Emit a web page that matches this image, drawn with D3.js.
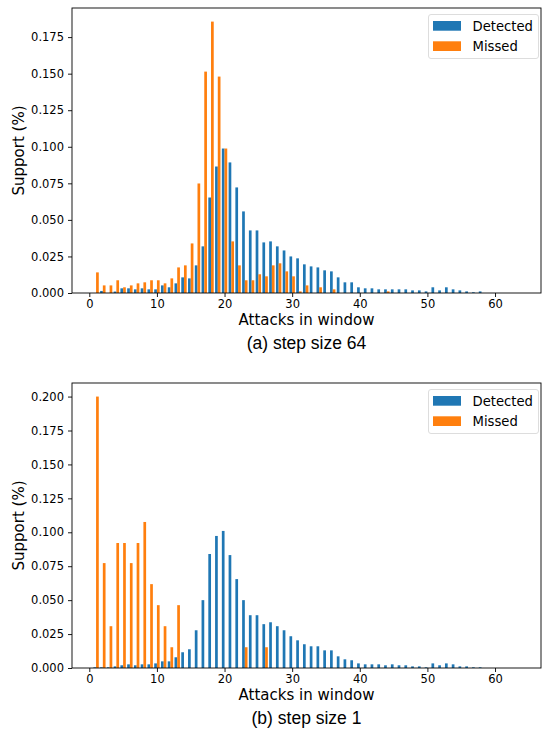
<!DOCTYPE html>
<html>
<head>
<meta charset="utf-8">
<script src="https://cdn.jsdelivr.net/npm/d3@7"></script>
<style>
  html, body { margin: 0; padding: 0; background: #fff; }
  svg { display: block; }
</style>
</head>
<body>
<svg id="chart" width="543" height="732"></svg>
<script>
// ---- Data ----
const attacks = d3.range(1, 59); // attacks in window: 1..58
const xTicks = [0, 10, 20, 30, 40, 50, 60];
const seriesNames = ["Detected", "Missed"];

// (a) step size 64
const detected64 = [0, 0.0014, 0, 0.0010, 0.0032, 0.0032, 0.0025, 0.0032, 0.0025, 0.0025,
  0.0052, 0.0039, 0.0066, 0.0107, 0.0100, 0.0189, 0.0319, 0.0653, 0.0865, 0.0988,
  0.0893, 0.0722, 0.0558, 0.0428, 0.0428, 0.0346, 0.0353, 0.0319, 0.0291, 0.0250,
  0.0237, 0.0196, 0.0182, 0.0175, 0.0155, 0.0148, 0.0107, 0.0073, 0.0073, 0.0039,
  0.0032, 0.0032, 0.0025, 0.0025, 0.0025, 0.0025, 0.0025, 0.0018, 0.0018, 0.0011,
  0.0039, 0.0018, 0.0039, 0.0025, 0.0018, 0.0011, 0.0005, 0.0011];
const missed64 = [0.0141, 0.0052, 0.0052, 0.0087, 0.0039, 0.0052, 0.0066, 0.0073, 0.0087, 0.0087,
  0.0066, 0.0100, 0.0175, 0.0189, 0.0339, 0.0749, 0.1514, 0.1856, 0.1480, 0.0988,
  0.0353, 0.0189, 0.0087, 0.0087, 0.0128, 0.0114, 0.0189, 0.0203, 0.0148, 0.0114,
  0.0011, 0.0052, 0, 0.0039, 0, 0.0025, 0, 0, 0, 0,
  0, 0, 0, 0.0011, 0, 0, 0, 0, 0, 0,
  0, 0, 0, 0, 0, 0, 0, 0];
const yTicks64 = [0, 0.025, 0.05, 0.075, 0.1, 0.125, 0.15, 0.175];

// (b) step size 1
const detected1 = [0.0005, 0.0005, 0.0005, 0.0012, 0.0020, 0.0027, 0.0020, 0.0027, 0.0027, 0.0034,
  0.0049, 0.0049, 0.0079, 0.0116, 0.0138, 0.0278, 0.0500, 0.0840, 0.0973, 0.1010,
  0.0832, 0.0655, 0.0500, 0.0389, 0.0389, 0.0323, 0.0337, 0.0308, 0.0278, 0.0234,
  0.0204, 0.0175, 0.0160, 0.0160, 0.0130, 0.0130, 0.0086, 0.0064, 0.0057, 0.0034,
  0.0027, 0.0027, 0.0027, 0.0020, 0.0027, 0.0020, 0.0020, 0.0012, 0.0012, 0.0005,
  0.0034, 0.0020, 0.0034, 0.0027, 0.0012, 0.0012, 0.0005, 0.0005];
const missed1 = [0.2000, 0.0773, 0.0308, 0.0921, 0.0921, 0.0773, 0.0921, 0.1076, 0.0618, 0.0463,
  0.0308, 0.0153, 0.0463, 0, 0, 0, 0, 0, 0, 0,
  0, 0, 0.0153, 0, 0, 0.0153, 0, 0, 0, 0,
  0, 0, 0, 0, 0, 0, 0, 0, 0, 0,
  0, 0, 0, 0, 0, 0, 0, 0, 0, 0,
  0, 0, 0, 0, 0, 0, 0, 0];
const yTicks1 = [0, 0.025, 0.05, 0.075, 0.1, 0.125, 0.15, 0.175, 0.2];

// ---- Styling / layout ----
const colors = ["#1f77b4", "#ff7f0e"];
const barW = 0.4;
const left = 72, right = 541;
const tickFont = "DejaVu Sans";

const svg = d3.select("#chart");

const panels = [
  { det: detected64, mis: missed64, yTicks: yTicks64, yMax: 0.1949, top: 8, bottom: 293,
    caption: "(a) step size 64" },
  { det: detected1, mis: missed1, yTicks: yTicks1, yMax: 0.21, top: 383, bottom: 668,
    caption: "(b) step size 1" }
];

panels.forEach(p => {
  const x = d3.scaleLinear().domain([-2.56, 66.8]).range([left, right]);
  const y = d3.scaleLinear().domain([0, p.yMax]).range([p.bottom, p.top]);
  const g = svg.append("g");

  const rows = attacks.map((k, i) => ({ k, d: p.det[i], m: p.mis[i] }));

  // Detected bars (left of integer)
  g.append("g").selectAll("rect").data(rows.filter(r => r.d > 0)).join("rect")
    .attr("x", r => x(r.k - barW))
    .attr("width", r => x(r.k) - x(r.k - barW))
    .attr("y", r => y(r.d))
    .attr("height", r => y(0) - y(r.d))
    .attr("fill", colors[0]);
  // Missed bars (right of integer)
  g.append("g").selectAll("rect").data(rows.filter(r => r.m > 0)).join("rect")
    .attr("x", r => x(r.k))
    .attr("width", r => x(r.k + barW) - x(r.k))
    .attr("y", r => y(r.m))
    .attr("height", r => y(0) - y(r.m))
    .attr("fill", colors[1]);

  // Axes
  const xAxis = g.append("g").attr("transform", `translate(0,${p.bottom})`)
    .call(d3.axisBottom(x).tickValues(xTicks).tickFormat(d3.format("d")).tickSize(4).tickPadding(3));
  const yAxis = g.append("g").attr("transform", `translate(${left},0)`)
    .call(d3.axisLeft(y).tickValues(p.yTicks).tickFormat(d3.format(".3f")).tickSize(4).tickPadding(4));
  [xAxis, yAxis].forEach(a => {
    a.select(".domain").remove();
    a.selectAll("line").attr("stroke", "#000").attr("stroke-width", 0.9);
    a.selectAll("text").attr("font-family", tickFont).attr("font-size", 11.5).attr("fill", "#000");
  });

  // Frame
  g.append("rect")
    .attr("x", left).attr("y", p.top)
    .attr("width", right - left).attr("height", p.bottom - p.top)
    .attr("fill", "none").attr("stroke", "#000").attr("stroke-width", 0.9);

  // Axis labels
  g.append("text")
    .attr("x", (left + right) / 2).attr("y", p.bottom + 32)
    .attr("text-anchor", "middle")
    .attr("font-family", tickFont).attr("font-size", 15)
    .text("Attacks in window");
  g.append("text")
    .attr("transform", `translate(24,${(p.top + p.bottom) / 2}) rotate(-90)`)
    .attr("text-anchor", "middle")
    .attr("font-family", tickFont).attr("font-size", 15)
    .text("Support (%)");

  // Caption
  g.append("text")
    .attr("x", (left + right) / 2).attr("y", p.bottom + 56)
    .attr("text-anchor", "middle")
    .attr("font-family", "Liberation Sans").attr("font-size", 17.5)
    .text(p.caption);

  // Legend
  const lg = g.append("g").attr("transform", `translate(428.5,${p.top + 6.5})`);
  lg.append("rect")
    .attr("width", 110).attr("height", 44).attr("rx", 2.5)
    .attr("fill", "#fff").attr("fill-opacity", 0.8)
    .attr("stroke", "#d9d9d9").attr("stroke-width", 0.9);
  seriesNames.forEach((name, i) => {
    lg.append("rect")
      .attr("x", 4.5).attr("y", 6.5 + i * 20.3)
      .attr("width", 28).attr("height", 9.7)
      .attr("fill", colors[i]);
    lg.append("text")
      .attr("x", 44).attr("y", 16 + i * 20.3)
      .attr("font-family", tickFont).attr("font-size", 13.2)
      .attr("fill", "#000")
      .text(name);
  });
});
</script>
</body>
</html>
